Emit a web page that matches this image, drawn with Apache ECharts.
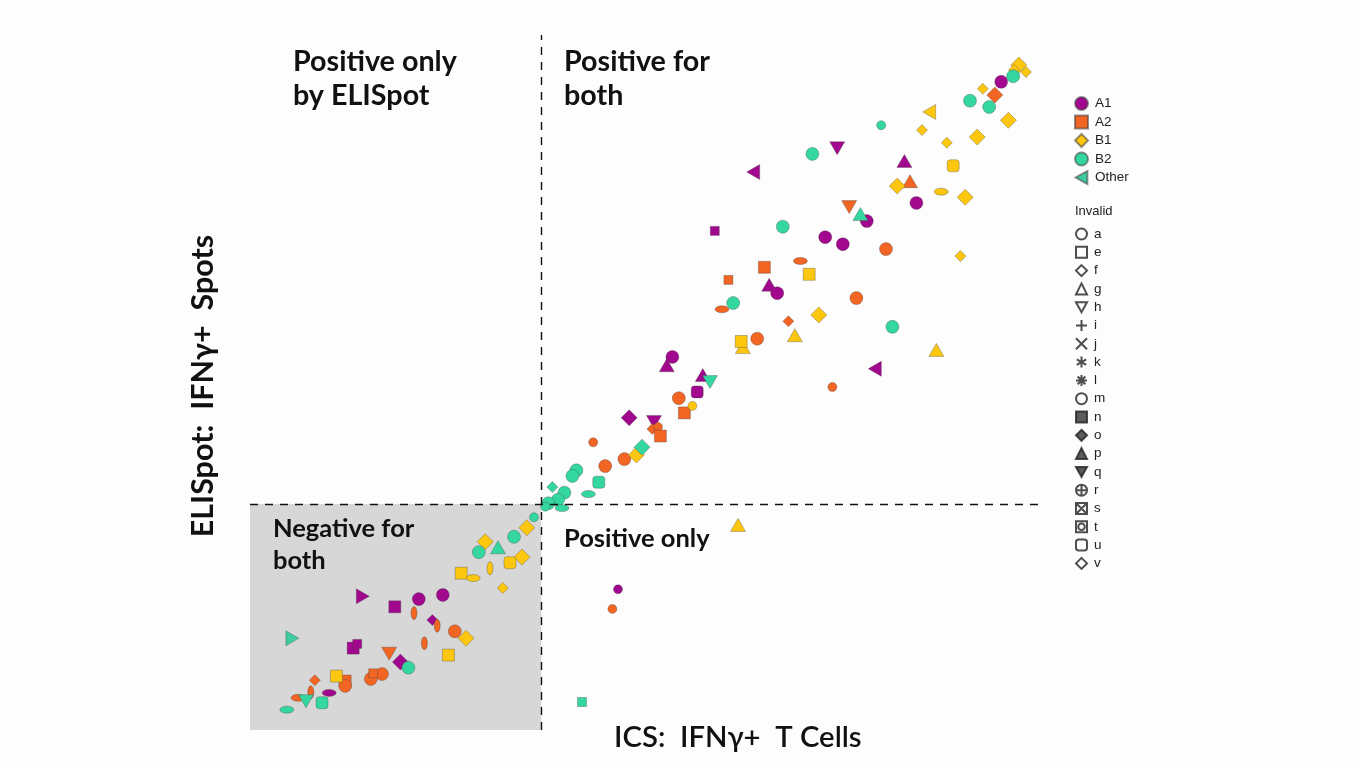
<!DOCTYPE html>
<html>
<head>
<meta charset="utf-8">
<title>ICS vs ELISpot</title>
<script src="https://cdn.jsdelivr.net/npm/echarts@6/dist/echarts.min.js"></script>
<style>
  html, body { margin: 0; padding: 0; background: #fdfdfd; }
  #chart { width: 1360px; height: 768px; }
</style>
</head>
<body>
<div id="chart"></div>
<script>
// -----------------------------------------------------------------------------
// Data. x = ICS IFNγ+ T cells, y = ELISpot IFNγ+ spots,
// both on an arbitrary 0–100 scale. Third field is the marker shape code.
// -----------------------------------------------------------------------------
const ICS_CUTOFF = 36.4;
const ELISPOT_CUTOFF = 32.3;
const X_END = 99;
const Y_END = 99.3;

const a1Points = [
  [93.9, 92.6, "circle"], [73.4, 83.1, "down"], [81.8, 81.3, "up"], [62.9, 79.7, "left"],
  [83.3, 75.3, "circle"], [77.1, 72.7, "circle"], [58.1, 71.3, "sq"], [71.9, 70.4, "circle"],
  [74.1, 69.4, "circle"], [64.9, 63.6, "up"], [65.9, 62.4, "circle"], [78.1, 51.6, "left"],
  [56.6, 50.7, "up"], [55.9, 48.3, "round"], [52.8, 53.3, "circle"], [52.1, 52.1, "up"],
  [47.4, 44.6, "diamond"], [50.5, 44.0, "down"], [14.1, 19.1, "right"], [21.1, 18.7, "circle"],
  [24.1, 19.3, "circle"], [18.1, 17.6, "square"], [22.8, 15.7, "dia"], [12.9, 11.7, "square"],
  [13.4, 12.3, "sq"], [18.8, 9.7, "diamond"], [9.9, 5.3, "ellipse"], [46.0, 20.1, "dot"],
];

const a2Points = [
  [93.1, 90.7, "diamond"], [82.5, 78.4, "up"], [74.9, 74.7, "down"], [79.5, 68.7, "circle"],
  [68.8, 67.0, "ellipse"], [64.3, 66.1, "square"], [59.8, 64.3, "sq"], [75.8, 61.7, "circle"],
  [59.0, 60.1, "ellipse"], [67.3, 58.4, "dia"], [63.4, 55.9, "circle"], [72.8, 49.0, "dot"],
  [53.6, 47.4, "circle"], [54.3, 45.3, "square"], [50.3, 43.0, "dia"], [51.0, 43.3, "dot"],
  [51.3, 42.0, "square"], [42.9, 41.1, "dot"], [46.8, 38.7, "circle"], [44.4, 37.7, "circle"],
  [20.5, 16.7, "vellipse"], [23.4, 14.9, "vellipse"], [25.6, 14.1, "circle"], [21.8, 12.4, "vellipse"],
  [17.4, 10.9, "down"], [16.5, 8.0, "circle"], [15.1, 7.3, "circle"], [15.4, 8.1, "sq"],
  [8.1, 7.1, "dia"], [11.9, 7.0, "square"], [11.9, 6.3, "circle"], [7.6, 5.4, "vellipse"],
  [6.0, 4.6, "ellipse"], [45.3, 17.3, "dot"],
];

const b1Points = [
  [96.1, 95.0, "diamond"], [97.0, 94.0, "dia"], [95.5, 94.3, "dia"], [91.6, 91.6, "dia"],
  [84.9, 88.3, "left"], [94.8, 87.1, "diamond"], [84.0, 85.7, "dia"], [87.1, 83.9, "dia"],
  [90.9, 84.7, "diamond"], [87.9, 80.6, "round"], [80.9, 77.7, "diamond"], [86.4, 76.9, "ellipse"],
  [89.4, 76.1, "diamond"], [88.8, 67.7, "dia"], [69.9, 65.1, "square"], [71.1, 59.3, "diamond"],
  [68.1, 56.4, "up"], [61.6, 54.7, "up"], [61.4, 55.5, "square"], [85.8, 54.3, "up"],
  [55.3, 46.3, "dot"], [48.3, 39.3, "diamond"], [61.0, 29.3, "up"], [34.6, 28.9, "diamond"],
  [34.0, 24.7, "diamond"], [29.4, 26.9, "diamond"], [26.4, 22.4, "square"], [27.9, 21.7, "ellipse"],
  [30.0, 23.1, "vellipse"], [32.5, 23.9, "round"], [31.6, 20.3, "dia"], [27.0, 13.1, "diamond"],
  [24.8, 10.7, "square"], [10.8, 7.7, "square"],
];

const b2Points = [
  [95.4, 93.4, "circle"], [90.0, 89.9, "circle"], [92.4, 89.0, "circle"], [78.9, 86.4, "dot"],
  [70.3, 82.3, "circle"], [76.3, 73.7, "up"], [66.6, 71.9, "circle"], [60.4, 61.0, "circle"],
  [80.3, 57.6, "circle"], [57.5, 49.7, "down"], [49.0, 40.4, "diamond"], [40.8, 37.1, "circle"],
  [40.3, 36.3, "circle"], [43.6, 35.4, "round"], [37.8, 34.7, "dia"], [39.3, 33.9, "circle"],
  [42.3, 33.7, "ellipse"], [38.5, 32.9, "circle"], [37.3, 32.4, "circle"], [39.0, 31.7, "ellipse"],
  [36.9, 31.9, "dot"], [35.5, 30.4, "dot"], [33.0, 27.6, "circle"], [31.0, 26.1, "up"],
  [28.6, 25.4, "circle"], [19.8, 8.9, "circle"], [7.0, 4.1, "down"], [9.0, 3.9, "round"],
  [4.6, 2.9, "ellipse"], [41.5, 4.0, "sq"],
];

const otherPoints = [
  [5.3, 13.1, "right"],
];

const GROUPS = ["A1", "A2", "B1", "B2", "Other"];
const GROUP_POINTS = [a1Points, a2Points, b1Points, b2Points, otherPoints];
const GROUP_COLORS = ["#a1088e", "#f26522", "#fdc70f", "#34d79f", "#3fcca0"];

const INVALID_CODES = ["a", "e", "f", "g", "h", "i", "j", "k", "l", "m", "n", "o", "p", "q", "r", "s", "t", "u", "v"];

// -----------------------------------------------------------------------------
// Symbols
// -----------------------------------------------------------------------------
const P = {
  down: "path://M0,0 L10,0 L5,9 Z",
  left: "path://M9,0 L0,5 L9,10 Z",
  right: "path://M0,0 L9,5 L0,10 Z",
  oval: "path://M0,5 A5,5 0 1,1 10,5 A5,5 0 1,1 0,5 Z",
};

const SHAPES = {
  circle: { symbol: "circle", size: 13 },
  dot: { symbol: "circle", size: 9 },
  square: { symbol: "rect", size: 12 },
  sq: { symbol: "rect", size: 9 },
  round: { symbol: "roundRect", size: 12 },
  diamond: { symbol: "diamond", size: 16 },
  dia: { symbol: "diamond", size: 11 },
  up: { symbol: "triangle", size: [15, 13] },
  down: { symbol: P.down, size: [15, 13] },
  left: { symbol: P.left, size: [13, 15] },
  right: { symbol: P.right, size: [13, 15] },
  ellipse: { symbol: P.oval, size: [14, 7] },
  vellipse: { symbol: P.oval, size: [6, 13] },
};

const LEGEND_ICONS = {
  A1: "circle",
  A2: "rect",
  B1: "diamond",
  B2: "circle",
  Other: P.left,
};

// Outline glyphs for the "Invalid" key.
const INVALID_ICONS = {
  a: { icon: "circle" },
  e: { icon: "rect" },
  f: { icon: "diamond" },
  g: { icon: "triangle" },
  h: { icon: P.down },
  i: { icon: "path://M5,0 L5,10 M0,5 L10,5" },
  j: { icon: "path://M0.5,0.5 L9.5,9.5 M9.5,0.5 L0.5,9.5" },
  k: { icon: "path://M5,0 L5,10 M0.7,2.5 L9.3,7.5 M9.3,2.5 L0.7,7.5" },
  l: { icon: "path://M5,0 L5,10 M0,5 L10,5 M1.5,1.5 L8.5,8.5 M8.5,1.5 L1.5,8.5" },
  m: { icon: "circle" },
  n: { icon: "rect", filled: true },
  o: { icon: "diamond", filled: true },
  p: { icon: "triangle", filled: true },
  q: { icon: P.down, filled: true },
  r: { icon: "path://M0,5 A5,5 0 1,1 10,5 A5,5 0 1,1 0,5 Z M5,0 L5,10 M0,5 L10,5" },
  s: { icon: "path://M0,0 L10,0 L10,10 L0,10 Z M0,0 L10,10 M10,0 L0,10" },
  t: { icon: "path://M0,0 L10,0 L10,10 L0,10 Z M2,5 A3,3 0 1,1 8,5 A3,3 0 1,1 2,5 Z" },
  u: { icon: "roundRect" },
  v: { icon: "diamond" },
};

// -----------------------------------------------------------------------------
// Options
// -----------------------------------------------------------------------------
const BG = "#fdfdfd";
const LABEL_FONT = "Lato, 'Open Sans', sans-serif";
const KEY_FONT = "'Liberation Sans', Arial, sans-serif";

const groupSeries = GROUPS.map((name, i) => ({
  name,
  type: "scatter",
  data: GROUP_POINTS[i],
  symbol: (v) => SHAPES[v[2]].symbol,
  symbolSize: (v) => SHAPES[v[2]].size,
  itemStyle: {
    color: GROUP_COLORS[i],
    borderColor: "rgba(60,60,60,0.55)",
    borderWidth: 0.6,
    opacity: 1,
  },
  emphasis: { disabled: true },
  z: 3,
}));

const invalidSeries = INVALID_CODES.map((code) => ({
  name: code,
  type: "scatter",
  data: [],
  itemStyle: {
    color: INVALID_ICONS[code].filled ? "#333" : BG,
    borderColor: "#222",
    borderWidth: 1,
  },
}));

// Cut-off lines and the "negative for both" box live on a data-less series.
const cutoffSeries = {
  name: "cutoffs",
  type: "scatter",
  data: [],
  silent: true,
  markArea: {
    silent: true,
    itemStyle: { color: "#d7d7d7" },
    data: [[{ coord: [0, 0] }, { coord: [ICS_CUTOFF, ELISPOT_CUTOFF] }]],
  },
  markLine: {
    silent: true,
    symbol: "none",
    label: { show: false },
    lineStyle: { color: "#111", type: [8, 7], width: 1.4 },
    data: [
      [{ coord: [ICS_CUTOFF, 0] }, { coord: [ICS_CUTOFF, Y_END] }],
      [{ coord: [0, ELISPOT_CUTOFF] }, { coord: [X_END, ELISPOT_CUTOFF] }],
    ],
  },
};

const quadText = (left, top, lines, size, lineHeight) => ({
  type: "text",
  left,
  top,
  z: 100,
  style: {
    text: lines.join("\n"),
    font: `bold ${size}px ${LABEL_FONT}`,
    lineHeight,
    fill: "#111",
  },
});

const keyText = { fontFamily: KEY_FONT, fontSize: 13.5, color: "#222", padding: [0, 0, 0, 2] };

const option = {
  backgroundColor: BG,
  animation: false,
  grid: { left: 250, right: 310, top: 30, bottom: 38 },
  xAxis: { type: "value", min: 0, max: 100, show: false },
  yAxis: { type: "value", min: 0, max: 100, show: false },
  legend: [
    {
      orient: "vertical",
      left: 1069,
      top: 91,
      itemWidth: 13,
      itemHeight: 13,
      itemGap: 3.5,
      selectedMode: false,
      textStyle: keyText,
      data: GROUPS.map((name) => ({ name, icon: LEGEND_ICONS[name] })),
    },
    {
      orient: "vertical",
      left: 1070,
      top: 222,
      itemWidth: 11,
      itemHeight: 11,
      itemGap: 4.3,
      selectedMode: false,
      textStyle: keyText,
      data: INVALID_CODES.map((code) => ({ name: code, icon: INVALID_ICONS[code].icon })),
    },
  ],
  graphic: [
    {
      type: "text",
      left: 1075,
      top: 205,
      z: 100,
      style: { text: "Invalid", font: `13px ${KEY_FONT}`, fill: "#222" },
    },
    quadText(293, 45, ["Positive only", "by ELISpot"], 28.7, 34),
    quadText(564, 45, ["Positive for", "both"], 28.7, 34),
    quadText(273, 513, ["Negative for", "both"], 25.5, 32),
    quadText(564, 523, ["Positive only"], 25.5, 32),
    {
      type: "text",
      x: 203,
      y: 386,
      z: 100,
      rotation: Math.PI / 2,
      style: {
        text: "ELISpot:  IFNγ+  Spots",
        font: `bold 30.5px ${LABEL_FONT}`,
        fill: "#111",
        align: "center",
        verticalAlign: "middle",
      },
    },
    {
      type: "text",
      left: 614,
      top: 723,
      z: 100,
      style: {
        text: "ICS:  IFNγ+  T Cells",
        font: `600 29.3px ${LABEL_FONT}`,
        fill: "#111",
      },
    },
  ],
  series: [cutoffSeries, ...groupSeries, ...invalidSeries],
};

const chart = echarts.init(document.getElementById("chart"), null, { renderer: "canvas" });
chart.setOption(option);
</script>
</body>
</html>
